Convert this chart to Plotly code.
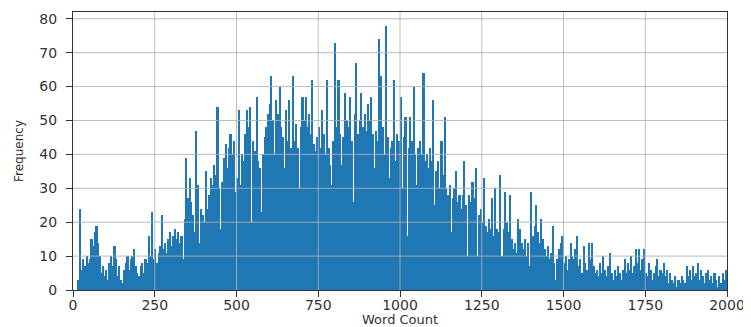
import plotly.graph_objects as go

# Histogram counts, bins of 5 words from 0 to 2000
bin_width = 5
counts = [
    # 0-100
    0, 0, 0, 3, 24, 6, 9, 7, 10, 8, 9, 15, 13, 17, 19, 14, 10, 5, 7, 4,
    # 100-200
    6, 3, 8, 10, 7, 13, 9, 4, 7, 3, 2, 6, 8, 10, 6, 9, 10, 12, 7, 5,
    # 200-300
    4, 7, 8, 5, 9, 8, 16, 10, 23, 9, 12, 8, 11, 13, 22, 12, 14, 11, 15, 17,
    # 300-400
    13, 16, 18, 15, 17, 14, 16, 9, 21, 39, 27, 33, 26, 22, 17, 47, 31, 14, 24, 22,
    # 400-500
    20, 35, 24, 28, 33, 31, 37, 34, 54, 30, 18, 32, 39, 43, 36, 42, 46, 40, 44, 29,
    # 500-600
    33, 53, 31, 40, 38, 46, 53, 48, 54, 20, 44, 41, 57, 38, 36, 23, 40, 45, 48, 52,
    # 600-700
    55, 63, 50, 40, 56, 52, 60, 48, 45, 36, 53, 44, 56, 42, 63, 44, 49, 42, 30, 48,
    # 700-800
    57, 50, 57, 48, 52, 46, 62, 43, 41, 45, 48, 42, 53, 46, 40, 62, 42, 37, 31, 44,
    # 800-900
    73, 48, 62, 46, 37, 45, 58, 50, 48, 57, 44, 26, 52, 67, 46, 50, 58, 48, 52, 47,
    # 900-1000
    55, 50, 57, 46, 36, 47, 44, 74, 63, 48, 40, 78, 45, 33, 42, 44, 62, 38, 46, 44,
    # 1000-1100
    57, 30, 45, 51, 16, 42, 51, 44, 60, 40, 31, 42, 44, 40, 64, 38, 40, 36, 42, 38,
    # 1100-1200
    56, 25, 35, 38, 30, 44, 34, 51, 30, 28, 31, 17, 27, 30, 35, 26, 28, 24, 28, 38,
    # 1200-1300
    25, 10, 28, 26, 32, 27, 36, 10, 22, 24, 20, 33, 19, 17, 21, 18, 27, 16, 30, 18,
    # 1300-1400
    17, 34, 10, 18, 29, 20, 17, 28, 15, 12, 14, 11, 21, 18, 14, 12, 15, 10, 14, 7,
    # 1400-1500
    29, 16, 19, 25, 17, 14, 21, 15, 12, 10, 13, 9, 11, 19, 8, 3, 9, 12, 14, 16,
    # 1500-1600
    8, 10, 6, 9, 14, 10, 9, 12, 16, 7, 9, 5, 13, 8, 6, 14, 9, 14, 7, 5,
    # 1600-1700
    6, 4, 8, 5, 10, 6, 4, 7, 11, 5, 3, 6, 4, 7, 5, 3, 6, 9, 5, 8,
    # 1700-1800
    6, 10, 5, 7, 12, 8, 12, 6, 9, 12, 5, 4, 8, 6, 3, 5, 7, 9, 4, 6,
    # 1800-1900
    5, 8, 4, 6, 2, 5, 3, 2, 4, 1, 3, 2, 4, 3, 2, 7, 4, 6, 3, 7,
    # 1900-2000
    4, 5, 8, 3, 6, 4, 2, 5, 6, 3, 4, 2, 5, 3, 1, 4, 2, 5, 3, 6,
]
bin_left = [i * bin_width for i in range(len(counts))]

x_ticks = [0, 250, 500, 750, 1000, 1250, 1500, 1750, 2000]
y_ticks = [0, 10, 20, 30, 40, 50, 60, 70, 80]

fig = go.Figure()
fig.add_trace(go.Bar(
    x=bin_left, y=counts, width=bin_width, offset=0,
    marker=dict(color="#1f77b4", line=dict(width=0)),
    hoverinfo="x+y",
))

grid_col = "rgba(176,176,176,0.85)"
shapes = []
for t in x_ticks[1:-1]:
    shapes.append(dict(type="line", xref="x", yref="paper", x0=t, x1=t, y0=0, y1=1,
                       line=dict(color=grid_col, width=1), layer="above"))
for t in y_ticks[1:]:
    shapes.append(dict(type="line", xref="paper", yref="y", x0=0, x1=1, y0=t, y1=t,
                       line=dict(color=grid_col, width=1), layer="above"))

font_family = "DejaVu Sans, Verdana, sans-serif"
# The page body has an 8px margin; size the figure so it fits the 751x327 window
body = 8
W, H = 751 - body, 327 - body
plot_left, plot_right, plot_top, plot_bottom = 73, 727, 12, 290   # window pixels
ml, mt = plot_left - body, plot_top - body
mr = W - (plot_right - body)
mb = H - (plot_bottom - body)
pw, ph = plot_right - plot_left, plot_bottom - plot_top

annotations = [
    dict(text="Word Count", xref="paper", yref="paper", x=0.5, y=-(319.5 - plot_bottom) / ph,
         xanchor="center", yanchor="middle", showarrow=False,
         font=dict(family=font_family, size=13, color="#333333")),
    dict(text="Frequency", xref="paper", yref="paper", x=-(plot_left - 19) / pw, y=0.5,
         xanchor="center", yanchor="middle", showarrow=False, textangle=-90,
         font=dict(family=font_family, size=12, color="#333333")),
]

fig.update_layout(
    width=W, height=H,
    margin=dict(l=ml, r=mr, t=mt, b=mb, pad=0),
    paper_bgcolor="white", plot_bgcolor="white",
    bargap=0, showlegend=False,
    shapes=shapes, annotations=annotations,
    font=dict(family=font_family, size=14, color="#333333"),
    xaxis=dict(
        range=[0, 2000], tickvals=x_ticks, ticktext=[str(v) for v in x_ticks],
        showgrid=False, zeroline=False, automargin=False,
        showline=True, mirror=True, linecolor="#333333", linewidth=1.2,
        ticks="outside", ticklen=6, tickcolor="#333333", tickwidth=1.2,
        ticklabelstandoff=-4,
        tickfont=dict(size=14),
    ),
    yaxis=dict(
        range=[0, 82], tickvals=y_ticks, ticktext=[str(v) for v in y_ticks],
        showgrid=False, zeroline=False, automargin=False,
        showline=True, mirror=True, linecolor="#333333", linewidth=1.2,
        ticks="outside", ticklen=6, tickcolor="#333333", tickwidth=1.2,
        ticklabelstandoff=6,
        tickfont=dict(size=14),
    ),
)

fig.write_html("out.html")
